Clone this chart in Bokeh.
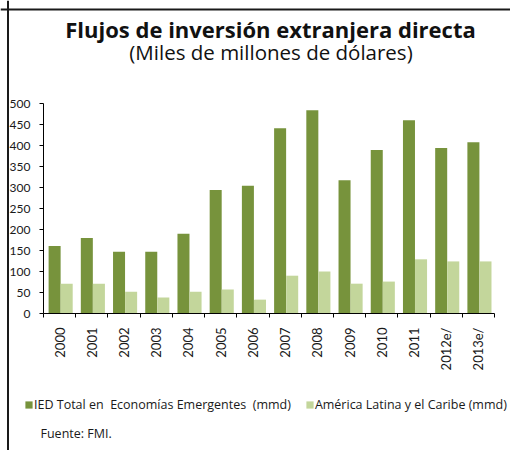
import math
from bokeh.plotting import figure
from bokeh.models import (Range1d, FixedTicker, Label, Legend, LegendItem,
                          LinearAxis, Span)
from bokeh.embed import file_html
from bokeh.resources import INLINE

categories = ["2000", "2001", "2002", "2003", "2004", "2005", "2006",
              "2007", "2008", "2009", "2010", "2011", "2012e/", "2013e/"]
ied_total = [161, 180, 147, 147, 190, 294, 304, 441, 484, 317, 389, 460, 394, 408]
america_latina = [71, 71, 52, 38, 52, 57, 33, 90, 100, 71, 76, 129, 124, 124]
y_ticks = [0, 50, 100, 150, 200, 250, 300, 350, 400, 450, 500]

title_text = "Flujos de inversión extranjera directa"
subtitle_text = "(Miles de millones de dólares)"
series_names = ["IED Total en  Economías Emergentes  (mmd)",
                "América Latina y el Caribe (mmd)"]
source_text = "Fuente: FMI."

FONT = "Lato"
TFONT = "Open Sans"
DARK = "#77933C"
LIGHT = "#C3D69B"
TXT = "#1a1a1a"

# layout in canvas pixels
W, H = 510, 450
FL, FR = 43, 494      # pixel x of the plot area's left/right
FT, FB = 103, 313     # pixel y of the plot area's top/bottom
NCAT = len(categories)
YMAX = y_ticks[-1]
x_per = (FR - FL) / NCAT
y_per = (FB - FT) / YMAX

def px2x(cx):
    return (cx - FL) / x_per

def py2y(cy):
    return (FB - cy) / y_per

p = figure(width=W, height=H, output_backend="svg", toolbar_location=None,
           x_range=Range1d(px2x(0), px2x(W)), y_range=Range1d(py2y(H), py2y(0)),
           x_axis_location=None, y_axis_location=None,
           min_border=0, min_border_left=0, min_border_right=0,
           min_border_top=0, min_border_bottom=0)
p.title.visible = False
p.outline_line_color = None
p.grid.visible = False

x_dark = [i + 0.345 for i in range(NCAT)]
x_light = [i + 0.72 for i in range(NCAT)]
r1 = p.vbar(x=x_dark, top=ied_total, width=0.373, color=DARK, line_color=None)
r2 = p.vbar(x=x_light, top=america_latina, width=0.373, color=LIGHT, line_color=None)

xa = LinearAxis(fixed_location=0, bounds=(0, NCAT))
xa.ticker = FixedTicker(ticks=[i + 0.5 for i in range(NCAT)],
                        minor_ticks=list(range(NCAT + 1)))
xa.major_label_overrides = {i + 0.5: c for i, c in enumerate(categories)}
xa.major_tick_out = 0
xa.major_tick_in = 0
xa.minor_tick_out = 4
xa.minor_tick_in = 0
xa.minor_tick_line_color = "black"
xa.axis_line_color = "black"
xa.major_label_orientation = math.pi / 2
xa.major_label_standoff = 10
xa.major_label_text_font = FONT
xa.major_label_text_font_size = "13px"
xa.major_label_text_color = TXT
p.add_layout(xa, "below")

ya = LinearAxis(fixed_location=0, bounds=(0, YMAX))
ya.ticker = FixedTicker(ticks=y_ticks)
ya.major_tick_out = 4
ya.major_tick_in = 0
ya.minor_tick_line_color = None
ya.axis_line_color = "black"
ya.major_tick_line_color = "black"
ya.major_label_standoff = 9
ya.major_label_text_font = FONT
ya.major_label_text_font_size = "12px"
ya.major_label_text_color = TXT
p.add_layout(ya, "left")

# frame of the chart area (left and top edges)
p.add_layout(Span(location=px2x(7.5), dimension="height", line_color="#1a1a1a", line_width=2))
p.add_layout(Span(location=py2y(9), dimension="width", line_color="#1a1a1a", line_width=2))

p.add_layout(Label(x=px2x(270), y=py2y(28.5), text=title_text,
                   text_font=TFONT, text_font_style="bold", text_font_size="22px",
                   text_align="center", text_baseline="alphabetic", text_color="#111111"))
p.add_layout(Label(x=px2x(270.5), y=py2y(51.5), text=subtitle_text,
                   text_font=TFONT, text_font_size="20.5px",
                   text_align="center", text_baseline="alphabetic", text_color="#111111"))
p.add_layout(Label(x=px2x(40), y=py2y(433), text=source_text,
                   text_font=TFONT, text_font_size="12.5px",
                   text_align="left", text_baseline="alphabetic", text_color=TXT))

legend = Legend(items=[LegendItem(label=series_names[0], renderers=[r1]),
                       LegendItem(label=series_names[1], renderers=[r2])],
                location=(24, H - 413), orientation="horizontal",
                glyph_width=9, glyph_height=9, label_standoff=1, spacing=14,
                label_height=9, padding=0, margin=0, border_line_color=None,
                background_fill_alpha=0, label_text_font=TFONT,
                label_text_font_size="12.5px", label_text_color=TXT)
p.add_layout(legend)

open("out.html", "w").write(file_html(p, INLINE))
